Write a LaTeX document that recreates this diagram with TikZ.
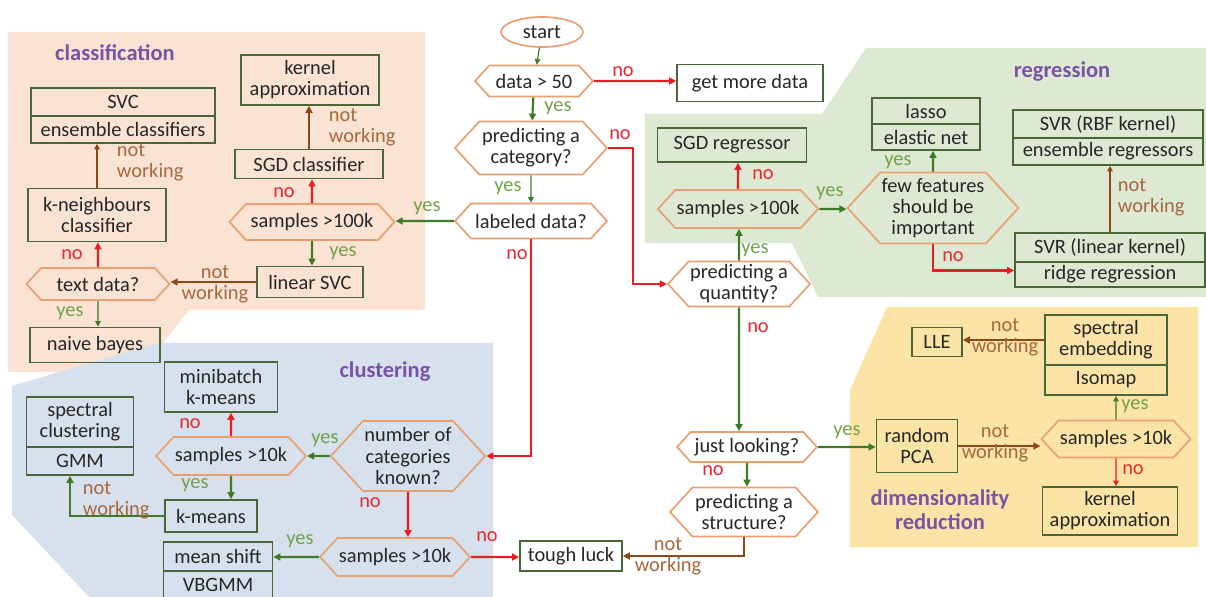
\documentclass[tikz,border=0pt]{standalone}
\usepackage{fontspec}
\setmainfont{Carlito}
\usetikzlibrary{shapes.symbols,shapes.geometric,arrows.meta}

\newcommand{\pu}{0.025cm}

\definecolor{clsbg}{RGB}{250,227,211}
\definecolor{clubg}{RGB}{215,225,238}
\definecolor{regbg}{RGB}{222,233,212}
\definecolor{dimbg}{RGB}{252,228,166}
\definecolor{hexline}{RGB}{232,160,112}
\definecolor{boxline}{RGB}{72,102,56}
\definecolor{grnline}{RGB}{62,122,42}
\definecolor{redline}{RGB}{236,28,36}
\definecolor{brnline}{RGB}{140,72,24}
\definecolor{yescol}{RGB}{112,162,72}
\definecolor{nocol}{RGB}{230,40,52}
\definecolor{nwcol}{RGB}{166,104,62}
\definecolor{titlecol}{RGB}{122,82,170}

\tikzset{
	every node/.style={font=\fontsize{14.5}{15}\selectfont, text=black!85},
	wh/.style 2 args={minimum width=#1*\pu, minimum height=#2*\pu},
	hexa/.style={signal, signal to=east and west, signal pointer angle=95,
			draw=hexline, line width=1.2pt, inner sep=1pt, align=center},
	box/.style={rectangle, draw=boxline, line width=1.2pt, inner sep=1pt, align=center},
	yeslab/.style={text=yescol},
	nolab/.style={text=nocol},
	nwlab/.style={text=nwcol, align=center},
	title/.style={text=titlecol, font=\fontsize{16}{17}\selectfont\bfseries, align=center},
	gline/.style={draw=grnline, line width=1.5pt, -{Triangle[length=5pt,width=5pt]}},
	gthin/.style={draw=grnline, line width=0.8pt, -{Triangle[length=4pt,width=4pt]}},
	rline/.style={draw=redline, line width=1.6pt, -{Triangle[length=5pt,width=5pt]}},
	rthin/.style={draw=redline, line width=0.9pt, -{Triangle[length=4pt,width=4pt]}},
	bline/.style={draw=brnline, line width=1.6pt, -{Triangle[length=5pt,width=5pt]}},
	bthin/.style={draw=brnline, line width=0.9pt, -{Triangle[length=4pt,width=4pt]}},
}

\begin{document}
\begin{tikzpicture}[x=\pu, y=-\pu]
		\useasboundingbox (0,0) rectangle (1206,597);

		% Regions
		\fill[clsbg] (8,32) -- (425,32) -- (425,310) -- (189,310) -- (140,372) -- (8,372) -- cycle;
		\fill[clubg] (12,386) -- (157,343) -- (493,343) -- (493,600) -- (92,600) -- (12,515) -- cycle;
		\fill[regbg] (645,114) -- (822,114) -- (866,48) -- (1206,48) -- (1206,297) -- (818,297) -- (792,243) -- (645,243) -- cycle;
		\fill[dimbg] (887,307) -- (1198,307) -- (1198,547) -- (850,547) -- (850,390) -- cycle;

		% Region titles
		\node[title] (tcls) at (115,53) {classification};
		\node[title] (treg) at (1062,72) {regression};
		\node[title] (tclu) at (385,372) {clustering};
		\node[title] (tdim) at (940,510) {dimensionality\\reduction};

		% Main column
		\node[ellipse, draw=hexline, line width=1.2pt, wh={82}{30}, inner sep=1pt] (start) at (542,32) {start};
		\node[hexa, wh={118}{31}] (d50) at (534,81) {data > 50};
		\node[box, wh={146}{37}] (more) at (750,83) {get more data};
		\node[hexa, wh={152}{53}] (cat) at (531,148) {predicting a\\category?};
		\node[hexa, wh={152}{35}] (lab) at (531,221) {labeled data?};

		% Classification
		\node[hexa, wh={165}{36}] (s100c) at (312,222) {samples >100k};
		\node[box, wh={148}{29}] (sgdc) at (309,164) {SGD classifier};
		\node[box, wh={138}{50}] (kac) at (310,80) {kernel\\approximation};
		\node[box, wh={106}{31}] (lsvc) at (310,282) {linear SVC};
		\node[hexa, wh={143}{32}] (txt) at (98,284) {text data?};
		\node[box, wh={138}{53}] (knn) at (97,215) {k-neighbours\\classifier};
		\node[box, wh={184}{28}] (svc) at (123,102) {SVC};
		\node[box, wh={184}{27}] (ens) at (123,129.5) {ensemble classifiers};
		\node[box, wh={130}{35}] (nb) at (95,345) {naive bayes};

		% Clustering
		\node[hexa, wh={150}{70}] (ncat) at (408,456) {number of\\categories\\known?};
		\node[hexa, wh={142}{38}] (s10a) at (231,456) {samples >10k};
		\node[box, wh={113}{50}] (mini) at (221,387) {minibatch\\k-means};
		\node[box, wh={107}{50}] (spc) at (80,422) {spectral\\clustering};
		\node[box, wh={107}{28}] (gmm) at (80,461) {GMM};
		\node[box, wh={92}{32}] (km) at (211,516) {k-means};
		\node[hexa, wh={140}{38}] (s10b) at (395,557) {samples >10k};
		\node[box, wh={109}{29}] (ms) at (218,556.5) {mean shift};
		\node[box, wh={109}{27}] (vb) at (218,584.5) {VBGMM};
		\node[box, wh={102}{30}] (tough) at (571,556) {tough luck};

		% Regression
		\node[hexa, wh={142}{45}] (qty) at (739,284) {predicting a\\quantity?};
		\node[hexa, wh={160}{38}] (s100r) at (738,209) {samples >100k};
		\node[box, wh={149}{34}] (sgdr) at (732,145) {SGD regressor};
		\node[hexa, wh={160}{71}] (few) at (933,208) {few features\\should be\\important};
		\node[box, wh={108}{26}] (lasso) at (926,111) {lasso};
		\node[box, wh={108}{26}] (enet) at (926,137) {elastic net};
		\node[box, wh={190}{28}] (rbf) at (1108,124) {SVR (RBF kernel)};
		\node[box, wh={190}{27}] (ensr) at (1108,151.5) {ensemble regressors};
		\node[box, wh={190}{29}] (svrl) at (1110,247.5) {SVR (linear kernel)};
		\node[box, wh={190}{25}] (ridge) at (1110,274.5) {ridge regression};

		% Dimensionality reduction
		\node[hexa, wh={140}{30}] (look) at (747,447) {just looking?};
		\node[hexa, wh={148}{49}] (struct) at (744,512) {predicting a\\structure?};
		\node[box, wh={81}{53}] (pca) at (917,446) {random\\PCA};
		\node[hexa, wh={142}{37}] (s10d) at (1116,439) {samples >10k};
		\node[box, wh={122}{50}] (spe) at (1106,340) {spectral\\embedding};
		\node[box, wh={122}{30}] (iso) at (1106,380) {Isomap};
		\node[box, wh={50}{29}] (lle) at (937,342) {LLE};
		\node[box, wh={135}{48}] (kad) at (1110,511) {kernel\\approximation};

		% Connectors
		\draw[gthin] (start) -- (d50);
		\draw[rline] (d50) -- (d50 -| more.west);
		\draw[gline] (d50) -- (cat);
		\draw[gthin] (cat) -- (lab);
		\draw[rline] (cat.east) -- ++(25,0) |- (qty.west);
		\draw[gline] (lab) -- (lab -| s100c.east);
		\draw[rline] (lab.south) |- (ncat.east);
		\draw[rline] (s100c) -- (s100c |- sgdc.south);
		\draw[gline] (s100c) -- (s100c |- lsvc.north);
		\draw[bline] (sgdc) -- (sgdc |- kac.south);
		\draw[bline] (lsvc) -- (lsvc -| txt.east);
		\draw[rline] (txt) -- (txt |- knn.south);
		\draw[gthin] (txt) -- (txt |- nb.north);
		\draw[bthin] (knn) -- (knn |- ens.south);
		\draw[gline] (qty) -- (qty |- s100r.south);
		\draw[gline] (qty) -- (qty |- look.north);
		\draw[rline] (s100r) -- (s100r |- sgdr.south);
		\draw[gline] (s100r) -- (s100r -| few.west);
		\draw[gline] (few) -- (few |- enet.south);
		\draw[rline] (few.south) |- ([yshift=4*\pu]ridge.west);
		\draw[bthin] (svrl) -- (svrl |- ensr.south);
		\draw[gline] (look) -- (look -| pca.west);
		\draw[gline] (look) -- (look |- struct.north);
		\draw[bline] (struct.south) |- (tough.east);
		\draw[bline] (pca) -- (pca -| s10d.west);
		\draw[gthin] (s10d) -- (s10d |- iso.south);
		\draw[rthin] (s10d) -- (s10d |- kad.north);
		\draw[bline] (spe) -- (spe -| lle.east);
		\draw[gline] (ncat) -- (ncat -| s10a.east);
		\draw[rline] (ncat) -- (ncat |- s10b.north);
		\draw[rline] (s10a) -- (s10a |- mini.south);
		\draw[gline] (s10a) -- (s10a |- km.north);
		\draw[gline] (km.west) -| ([xshift=-10*\pu]gmm.south);
		\draw[gline] (s10b) -- (s10b -| ms.east);
		\draw[rline] (s10b) -- (s10b -| tough.west);

		% Labels for answers
		\node[nolab] (n1) at (623,72) {no};
		\node[yeslab] (y1) at (558,108) {yes};
		\node[nolab] (n2) at (620,135) {no};
		\node[yeslab] (y2) at (508,188) {yes};
		\node[yeslab] (y3) at (427,208) {yes};
		\node[nolab] (n3) at (517,255) {no};
		\node[nolab] (n4) at (284,193) {no};
		\node[yeslab] (y4) at (343,253) {yes};
		\node[nwlab, align=left, anchor=west] (w1) at (324,127) {not\\working};
		\node[nwlab] (w2) at (215,284) {not\\working};
		\node[nolab] (n5) at (72,255) {no};
		\node[yeslab] (y5) at (70,313) {yes};
		\node[nwlab, align=left, anchor=west] (w3) at (112,162) {not\\working};
		\node[yeslab] (y6) at (755,250) {yes};
		\node[nolab] (n6) at (758,328) {no};
		\node[nolab] (n7) at (763,175) {no};
		\node[yeslab] (y7) at (830,193) {yes};
		\node[yeslab] (y8) at (898,162) {yes};
		\node[nolab] (n8) at (953,257) {no};
		\node[nwlab, align=left, anchor=west] (w4) at (1113,197) {not\\working};
		\node[yeslab] (y9) at (847,432) {yes};
		\node[nolab] (n9) at (713,471) {no};
		\node[nwlab] (w5) at (668,556) {not\\working};
		\node[nwlab] (w6) at (995,443) {not\\working};
		\node[yeslab] (y10) at (1135,406) {yes};
		\node[nolab] (n10) at (1133,470) {no};
		\node[nwlab] (w7) at (1005,337) {not\\working};
		\node[yeslab] (y11) at (325,440) {yes};
		\node[nolab] (n11) at (370,503) {no};
		\node[nolab] (n12) at (190,424) {no};
		\node[yeslab] (y12) at (195,485) {yes};
		\node[nwlab, align=left, anchor=west] (w8) at (78,500) {not\\working};
		\node[yeslab] (y13) at (300,541) {yes};
		\node[nolab] (n13) at (487,537) {no};
	\end{tikzpicture}
\end{document}
